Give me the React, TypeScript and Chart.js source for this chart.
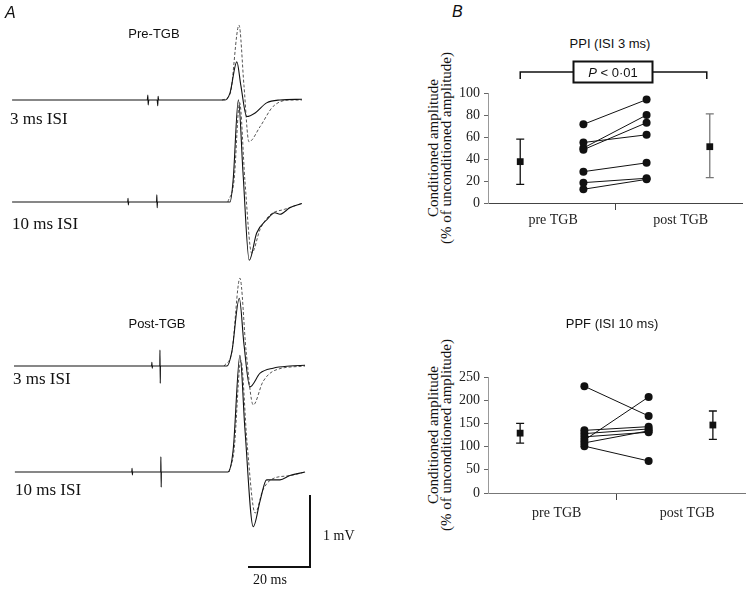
import React, { useEffect, useRef } from "react";
import { Chart, registerables } from "chart.js";

Chart.register(...registerables);

// ---------- Panel A: traces, [time (ms), amplitude (mV)] ----------
const PRE_3MS_SOLID: [number, number][] = [
  [3.9, 0], [47.5, 0], [47.7, 0.07], [47.8, -0.07], [48.0, 0], [50.7, 0], [50.9, -0.08], [51.0, 0.05], [51.2, 0],
  [72.6, 0], [74.2, 0.1], [76.4, 0.53], [77.7, 0.2], [79.6, -0.23], [82.3, -0.18], [86.0, -0.04], [90.3, 0], [97.4, 0.01],
];
const PRE_3MS_DASHED: [number, number][] = [
  [71.6, 0], [74.2, 0.08], [77.1, 1.04], [78.7, 0.2], [80.3, -0.58], [83.9, -0.37], [88.1, -0.09], [93.5, 0], [97.4, 0],
];
const PRE_10MS_SOLID: [number, number][] = [
  [3.9, 0], [41.2, 0], [41.3, 0.05], [41.4, -0.04], [41.5, 0], [50.5, 0], [50.6, 0.1], [50.7, -0.08], [50.8, 0],
  [74.2, 0], [75.2, 0.3], [76.9, 1.42], [78.4, 0.4], [80.4, -0.81], [82.8, -0.43], [86.0, -0.25], [88.7, -0.15],
  [90.3, -0.17], [93.5, -0.08], [97.4, -0.02],
];
const PRE_10MS_DASHED: [number, number][] = [
  [73.5, 0], [75.5, 0.3], [77.3, 1.38], [79.0, 0.3], [81.2, -0.71], [83.9, -0.38], [87.1, -0.18], [91.9, -0.1], [97.4, -0.02],
];
const POST_3MS_SOLID: [number, number][] = [
  [4.5, 0], [48.9, 0], [49.0, 0.05], [49.1, -0.03], [49.2, 0], [51.55, 0], [51.6, 0.22], [51.7, -0.24], [51.75, 0],
  [73.2, 0], [74.8, 0.2], [77.2, 0.94], [78.7, 0.3], [80.6, -0.29], [83.9, -0.1], [88.1, -0.03], [93.5, 0], [98.4, 0.01],
];
const POST_3MS_DASHED: [number, number][] = [
  [72.3, 0], [74.8, 0.2], [77.4, 1.22], [79.4, 0.2], [81.7, -0.54], [84.8, -0.22], [88.7, -0.06], [98.4, 0],
];
const POST_10MS_SOLID: [number, number][] = [
  [4.8, 0], [42.5, 0], [42.6, 0.05], [42.7, -0.04], [42.8, 0], [51.85, 0], [51.9, 0.21], [52.0, -0.21], [52.05, 0],
  [73.5, 0], [75.2, 0.3], [77.4, 1.62], [79.0, 0.6], [81.7, -0.76], [83.9, -0.4], [86.0, -0.11], [90.3, -0.11],
  [93.5, -0.05], [98.4, 0],
];
const POST_10MS_DASHED: [number, number][] = [
  [73.9, 0], [75.5, 0.3], [77.7, 1.55], [79.7, 0.4], [82.3, -0.57], [84.8, -0.25], [87.7, -0.1], [93.5, -0.05], [98.4, 0],
];
const SCALE_BAR_MS = 20;
const SCALE_BAR_MV = 1;

// ---------- Panel B: PPI (ISI 3 ms) ----------
const PPI_PRE = [71.5, 55, 50, 48.5, 28.5, 18.5, 12.5];
const PPI_POST = [94, 62, 80, 73, 36.5, 22.5, 21.5];
const PPI_MEAN = [37.6, 51.2];
const PPI_ERR_LOW = [17, 23];
const PPI_ERR_HIGH = [58, 81];
const PPI_Y_MAX = 100;
const PPI_Y_STEP = 20;

// ---------- Panel B: PPF (ISI 10 ms) ----------
const PPF_PRE = [230, 135, 128, 121, 114, 108, 101];
const PPF_POST = [166, 143, 138, 131, 207, 134, 69];
const PPF_MEAN = [129, 146.5];
const PPF_ERR_LOW = [107.5, 115.7];
const PPF_ERR_HIGH = [150, 176.7];
const PPF_Y_MAX = 250;
const PPF_Y_STEP = 50;

const GROUP_LABELS = ["pre TGB", "", "post TGB"];
const SIG_TEXT = ["P", " < 0·01"];

// ---------- layout constants ----------
const A_W = 340;
const A_H = 593;
const PX_PER_MS = 3.1;
const PX_PER_MV = 72;
const BASE_PX = { pre3: 100, pre10: 202, post3: 366, post10: 472 };
const SERIF = "'Liberation Serif', 'Times New Roman', serif";
const SANS = "'Liberation Sans', Arial, sans-serif";

function baseMv(px: number) {
  return (A_H - px) / PX_PER_MV;
}

function traceData(pts: [number, number][], base: number) {
  return pts.map(([t, v]) => ({ x: t, y: v + base }));
}

function TraceChart() {
  const ref = useRef<HTMLCanvasElement | null>(null);
  useEffect(() => {
    if (!ref.current) return;
    const solid = (d: any) => ({
      data: d, borderColor: "#111", borderWidth: 1.1, pointRadius: 0,
      cubicInterpolationMode: "monotone" as const,
    });
    const dashed = (d: any) => ({
      data: d, borderColor: "#555", borderWidth: 1, borderDash: [3, 2], pointRadius: 0,
      cubicInterpolationMode: "monotone" as const,
    });
    const barX = 100;
    const barY = baseMv(567);
    const chart = new Chart(ref.current, {
      type: "line",
      data: {
        datasets: [
          solid(traceData(PRE_3MS_SOLID, baseMv(BASE_PX.pre3))),
          dashed(traceData(PRE_3MS_DASHED, baseMv(BASE_PX.pre3))),
          solid(traceData(PRE_10MS_SOLID, baseMv(BASE_PX.pre10))),
          dashed(traceData(PRE_10MS_DASHED, baseMv(BASE_PX.pre10))),
          solid(traceData(POST_3MS_SOLID, baseMv(BASE_PX.post3))),
          dashed(traceData(POST_3MS_DASHED, baseMv(BASE_PX.post3))),
          solid(traceData(POST_10MS_SOLID, baseMv(BASE_PX.post10))),
          dashed(traceData(POST_10MS_DASHED, baseMv(BASE_PX.post10))),
          {
            data: [
              { x: barX - SCALE_BAR_MS, y: barY },
              { x: barX, y: barY },
              { x: barX, y: barY + SCALE_BAR_MV },
            ],
            borderColor: "#111", borderWidth: 2, pointRadius: 0, tension: 0,
          },
        ],
      },
      options: {
        animation: false,
        responsive: false,
        events: [],
        layout: { padding: 0 },
        plugins: { legend: { display: false }, tooltip: { enabled: false } },
        scales: {
          x: { type: "linear", min: 0, max: A_W / PX_PER_MS, display: false },
          y: { type: "linear", min: 0, max: A_H / PX_PER_MV, display: false },
        },
      },
    });
    return () => chart.destroy();
  }, []);
  return (
    <canvas ref={ref} width={A_W} height={A_H}
      style={{ position: "absolute", left: 0, top: 0, width: A_W, height: A_H }} />
  );
}

type BProps = {
  left: number; top: number; width: number; height: number;
  pre: number[]; post: number[]; mean: number[]; lo: number[]; hi: number[];
  yMax: number; yStep: number; xTicks: number[]; xMin: number; xMax: number;
  padTop: number; padRight: number; xAxisH: number; tickPad: number;
  errColors: string[]; xBorder: string; bracket: boolean;
};

function PairChart(p: BProps) {
  const ref = useRef<HTMLCanvasElement | null>(null);
  useEffect(() => {
    if (!ref.current) return;
    const subjects = p.pre.map((v, i) => ({
      type: "line" as const,
      data: [{ x: 1, y: v }, { x: 2, y: p.post[i] }],
      borderColor: "#111", borderWidth: 1, pointRadius: 4,
      pointBackgroundColor: "#111", pointBorderColor: "#111", pointBorderWidth: 0, tension: 0,
    }));
    const means = {
      type: "line" as const,
      data: [{ x: 0, y: p.mean[0] }, { x: 3, y: p.mean[1] }],
      showLine: false, pointStyle: "rect" as const, pointRadius: 4.8,
      pointBackgroundColor: "#111", pointBorderColor: "#111", pointBorderWidth: 0,
    };
    const errPlugin = {
      id: "errBars",
      beforeDatasetsDraw(chart: any) {
        const { ctx, scales } = chart;
        const xs = scales.x, ys = scales.y;
        [0, 1].forEach((i) => {
          const px = xs.getPixelForValue(i === 0 ? 0 : 3);
          const t = ys.getPixelForValue(p.hi[i]);
          const b = ys.getPixelForValue(p.lo[i]);
          ctx.save();
          ctx.strokeStyle = p.errColors[i];
          ctx.lineWidth = 1.3;
          ctx.beginPath();
          ctx.moveTo(px, t); ctx.lineTo(px, b);
          ctx.moveTo(px - 4, t); ctx.lineTo(px + 4, t);
          ctx.moveTo(px - 4, b); ctx.lineTo(px + 4, b);
          ctx.stroke();
          ctx.restore();
        });
      },
    };
    const bracketPlugin = {
      id: "sigBracket",
      afterDraw(chart: any) {
        if (!p.bracket) return;
        const { ctx, scales, chartArea } = chart;
        const xs = scales.x;
        const y0 = chartArea.top - 21;
        const xa = xs.getPixelForValue(0);
        const xb = xs.getPixelForValue(3) - 3;
        const cx = xs.getPixelForValue(1.5) - 2;
        ctx.save();
        ctx.strokeStyle = "#111";
        ctx.lineWidth = 1.5;
        ctx.beginPath();
        ctx.moveTo(xa, y0 + 7); ctx.lineTo(xa, y0); ctx.lineTo(xb, y0); ctx.lineTo(xb, y0 + 7);
        ctx.stroke();
        const bw = 79, bh = 21;
        ctx.fillStyle = "#fff";
        ctx.fillRect(cx - bw / 2, y0 - bh / 2, bw, bh);
        ctx.lineWidth = 2;
        ctx.strokeRect(cx - bw / 2, y0 - bh / 2, bw, bh);
        ctx.fillStyle = "#111";
        ctx.textBaseline = "middle";
        ctx.textAlign = "left";
        ctx.font = `italic 13px ${SANS}`;
        const w1 = ctx.measureText(SIG_TEXT[0]).width;
        ctx.font = `13px ${SANS}`;
        const w2 = ctx.measureText(SIG_TEXT[1]).width;
        const sx = cx - (w1 + w2) / 2;
        ctx.font = `italic 13px ${SANS}`;
        ctx.fillText(SIG_TEXT[0], sx, y0 + 1);
        ctx.font = `13px ${SANS}`;
        ctx.fillText(SIG_TEXT[1], sx + w1, y0 + 1);
        ctx.restore();
      },
    };
    const chart = new Chart(ref.current, {
      type: "line",
      data: { datasets: [means as any, ...subjects] },
      plugins: [errPlugin, bracketPlugin],
      options: {
        animation: false,
        responsive: false,
        events: [],
        layout: { padding: { left: 0, right: p.padRight, top: p.padTop, bottom: 0 } },
        plugins: { legend: { display: false }, tooltip: { enabled: false } },
        scales: {
          x: {
            type: "linear", min: p.xMin, max: p.xMax,
            afterBuildTicks: (s: any) => { s.ticks = p.xTicks.map((v) => ({ value: v })); },
            afterFit: (s: any) => { s.height = p.xAxisH; },
            ticks: {
              autoSkip: false, maxRotation: 0, padding: p.tickPad, color: "#222",
              font: { family: SERIF, size: 14 },
              callback: (_v: any, i: number) => GROUP_LABELS[i],
            },
            grid: {
              drawOnChartArea: false, tickLength: 7, tickWidth: 1,
              tickColor: (c: any) => (c.index === 1 ? "#444" : "rgba(0,0,0,0)"),
            },
            border: { color: p.xBorder, width: 1 },
          },
          y: {
            type: "linear", min: 0, max: p.yMax,
            afterFit: (s: any) => { s.width = 48; },
            ticks: { stepSize: p.yStep, padding: 4, color: "#222", font: { family: SERIF, size: 14 } },
            grid: { drawOnChartArea: false, tickLength: 4, tickColor: "#666" },
            border: { color: "#999", width: 1 },
          },
        },
      },
    });
    return () => chart.destroy();
  }, []);
  return (
    <canvas ref={ref} width={p.width} height={p.height}
      style={{ position: "absolute", left: p.left, top: p.top, width: p.width, height: p.height }} />
  );
}

function Txt(props: {
  x: number; y: number; size: number; family: string; italic?: boolean;
  anchor?: "left" | "center"; children: any; weight?: number;
}) {
  const tx = props.anchor === "center" ? "-50%" : "0";
  return (
    <div style={{
      position: "absolute", left: props.x, top: props.y,
      transform: `translate(${tx}, -50%)`, fontSize: props.size, fontFamily: props.family,
      fontStyle: props.italic ? "italic" : "normal", fontWeight: props.weight ?? 400,
      whiteSpace: "nowrap", lineHeight: 1, color: "#111",
    }}>{props.children}</div>
  );
}

function YTitle(props: { x: number; y: number }) {
  return (
    <div style={{
      position: "absolute", left: props.x, top: props.y,
      transform: "translate(-50%, -50%) rotate(-90deg)", fontFamily: SERIF, fontSize: 15,
      lineHeight: "13px", textAlign: "center", whiteSpace: "nowrap", color: "#111",
    }}>
      <div>Conditioned amplitude</div>
      <div>(% of unconditioned amplitude)</div>
    </div>
  );
}

export default function App() {
  return (
    <div style={{
      position: "fixed", left: 0, top: 0, width: 750, height: 593,
      background: "#fff", overflow: "hidden",
    }}>
      <TraceChart />
      <Txt x={5} y={13} size={16} family={SANS} italic>A</Txt>
      <Txt x={154} y={33} size={13} family={SANS} anchor="center">Pre-TGB</Txt>
      <Txt x={157} y={323} size={13} family={SANS} anchor="center">Post-TGB</Txt>
      <Txt x={10} y={118} size={17} family={SERIF}>3 ms ISI</Txt>
      <Txt x={12} y={223} size={17} family={SERIF}>10 ms ISI</Txt>
      <Txt x={13} y={378} size={17} family={SERIF}>3 ms ISI</Txt>
      <Txt x={15} y={489} size={17} family={SERIF}>10 ms ISI</Txt>
      <Txt x={323} y={536} size={14} family={SERIF}>1 mV</Txt>
      <Txt x={270} y={580} size={14} family={SERIF} anchor="center">20 ms</Txt>

      <Txt x={452} y={12} size={16} family={SANS} italic>B</Txt>
      <Txt x={610} y={43} size={13} family={SANS} anchor="center">PPI (ISI 3 ms)</Txt>
      <Txt x={612} y={323} size={13} family={SANS} anchor="center">PPF (ISI 10 ms)</Txt>
      <YTitle x={440} y={148} />
      <YTitle x={440} y={435} />

      <PairChart
        left={440} top={30} width={310} height={215}
        pre={PPI_PRE} post={PPI_POST} mean={PPI_MEAN} lo={PPI_ERR_LOW} hi={PPI_ERR_HIGH}
        yMax={PPI_Y_MAX} yStep={PPI_Y_STEP} xTicks={[0.52, 1.5, 2.54]} xMin={-0.51} xMax={3.51}
        padTop={63} padRight={8} xAxisH={42} tickPad={2}
        errColors={["#111", "#777"]} xBorder="#444" bracket={true}
      />
      <PairChart
        left={440} top={310} width={310} height={230}
        pre={PPF_PRE} post={PPF_POST} mean={PPF_MEAN} lo={PPF_ERR_LOW} hi={PPF_ERR_HIGH}
        yMax={PPF_Y_MAX} yStep={PPF_Y_STEP} xTicks={[0.57, 1.5, 2.6]} xMin={-0.5} xMax={3.5}
        padTop={67} padRight={5} xAxisH={47} tickPad={5}
        errColors={["#111", "#111"]} xBorder="#777" bracket={false}
      />
    </div>
  );
}
